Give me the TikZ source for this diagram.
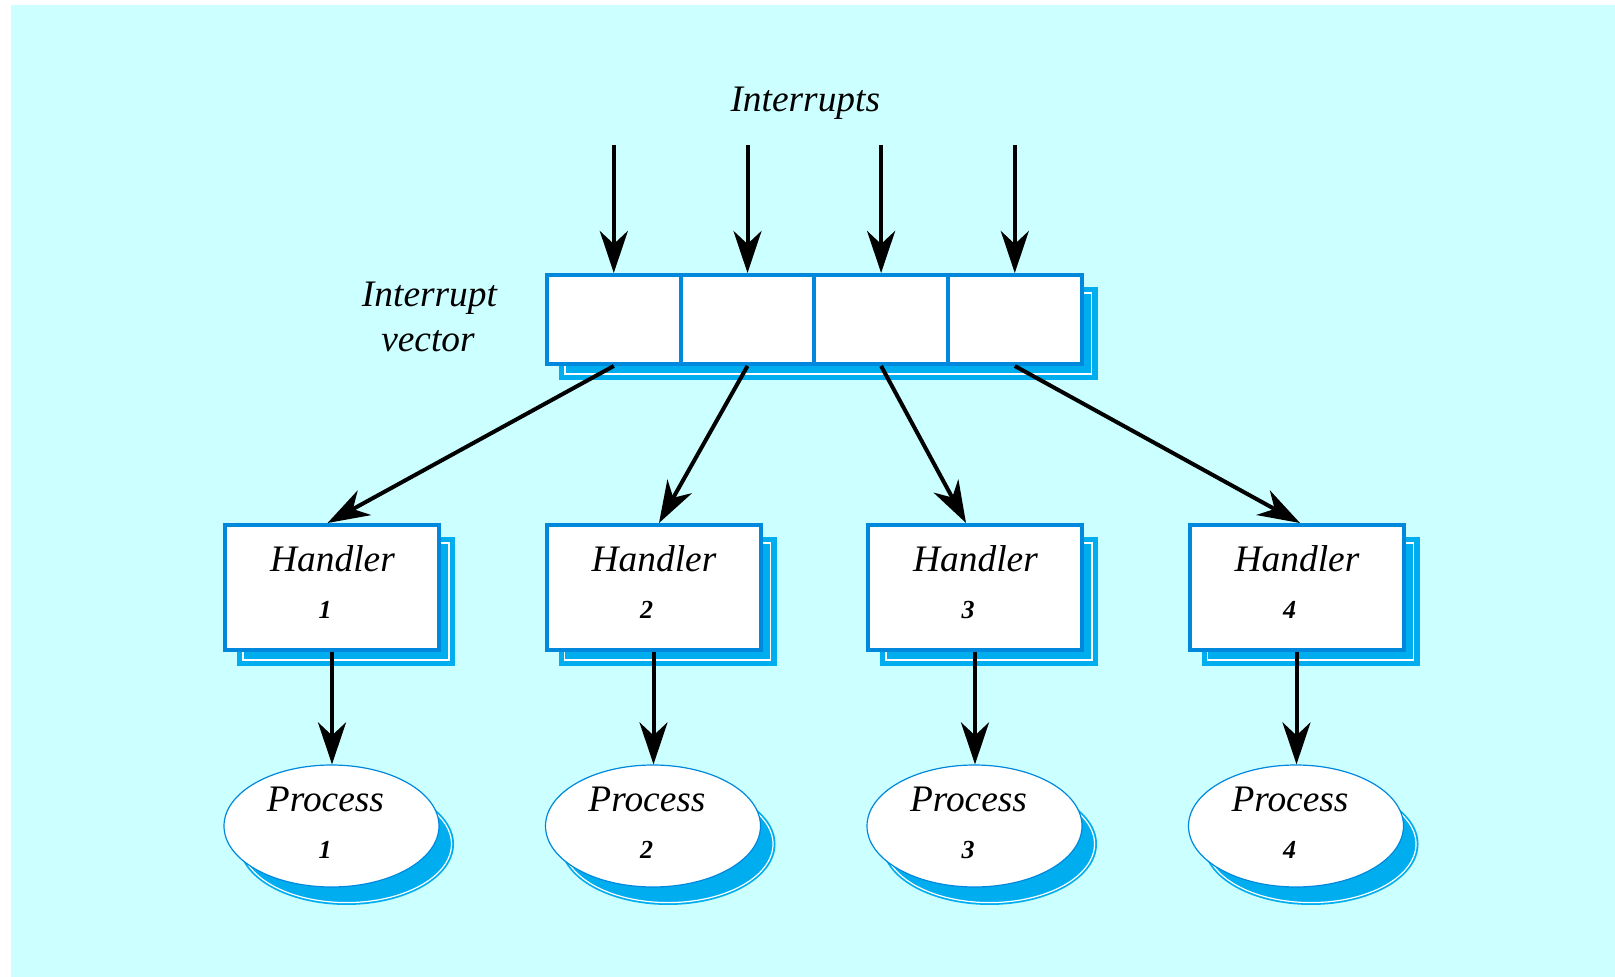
\documentclass[tikz,border=0pt]{standalone}
\usepackage{fontspec}
\usetikzlibrary{arrows.meta,shapes.geometric,calc}

\definecolor{pagecyan}{HTML}{CCFFFF}
\definecolor{edgeblue}{HTML}{0088DD}
\definecolor{shadeblue}{HTML}{00AEEF}

% italic serif labels
\newfontfamily\labelserif{Liberation Serif}
\newcommand\chanfont{\labelserif\itshape\fontsize{18.7}{22}\selectfont}
\newcommand\numfont{\labelserif\itshape\bfseries\fontsize{13}{16}\selectfont}

\pgfdeclarelayer{back}
\pgfdeclarelayer{shade}
\pgfsetlayers{back,shade,main}

% drop shadow behind a rectangle spanned by two nodes
\newcommand\boxshade[2]{%
  \fill[shadeblue] ([shift={(14,14)}]#1.south west) rectangle ([shift={(14,14)}]#2.north east);
  \draw[white, line width=0.75pt] ([shift={(20,8)}]#1.south west) rectangle ([shift={(8,20)}]#2.north east);
}
% drop shadow behind an ellipse node
\newcommand\ellshade[1]{%
  \fill[shadeblue] ([shift={(15,18)}]#1.center) ellipse [x radius=53.75pt, y radius=30.5pt];
  \draw[white, line width=0.6pt] ([shift={(15,18)}]#1.center) ellipse [x radius=52.5pt, y radius=29.3pt];
}

\begin{document}
\begin{tikzpicture}[x=0.5pt,y=-0.5pt,
  lbl/.style={font=\chanfont, inner sep=0pt, anchor=base},
  num/.style={font=\numfont, inner sep=0pt, anchor=base},
  cell/.style={draw=edgeblue, fill=white, line width=2pt, inner sep=0pt,
               minimum width=66.8pt, minimum height=44.5pt},
  handler/.style={draw=edgeblue, fill=white, line width=2pt, inner sep=0pt,
               minimum width=107pt, minimum height=62.5pt},
  proc/.style={ellipse, draw=edgeblue, fill=white, line width=0.6pt, inner sep=0pt,
               minimum width=107.5pt, minimum height=61pt},
  arr/.style={line width=2pt, -{Stealth[length=21pt,width=14pt,inset=6.5pt]}},
]
\useasboundingbox (0,0) rectangle (1615,977);
\begin{pgfonlayer}{back}
  \fill[white] (0,0) rectangle (1615,977);
  \fill[pagecyan] (11,5) rectangle (1615,977);
\end{pgfonlayer}

% titles
\node[lbl] (title) at (805.3,111.7) {Interrupts};
\node[lbl] (veclbl1) at (429.5,306.7) {Interrupt};
\node[lbl] (veclbl2) at (428,351.7) {vector};

% interrupt vector cells
\foreach \i/\x in {1/613.8,2/747.5,3/881.1,4/1014.8} {
  \node[cell] (v\i) at (\x,319.5) {};
  \coordinate (in\i) at (\x,145);
}
\begin{pgfonlayer}{shade}
  \boxshade{v1}{v4}
\end{pgfonlayer}

% handlers and processes
\foreach \i/\x/\dx in {1/332/-4.5,2/653.5/5.5,3/975/-9,4/1296.5/3.5} {
  \node[handler] (h\i) at (\x,587.5) {};
  \node[lbl] (h\i name) at (\x+0.5,572) {Handler};
  \node[num] (h\i num) at (\x-7,618) {\i};
  \node[proc] (p\i) at (\x-0.5,826) {};
  \node[lbl] (p\i name) at (\x-6.5,811.5) {Process};
  \node[num] (p\i num) at (\x-7,858) {\i};
  \begin{pgfonlayer}{shade}
    \boxshade{h\i}{h\i}
    \ellshade{p\i}
  \end{pgfonlayer}
  \draw[arr] (in\i) -- (v\i.north);
  \draw[arr] (v\i.south) -- ([xshift=\dx*0.5pt]h\i.north);
  \draw[arr] (h\i.south) -- (h\i.south |- p\i.north);
}
\end{tikzpicture}
\end{document}
